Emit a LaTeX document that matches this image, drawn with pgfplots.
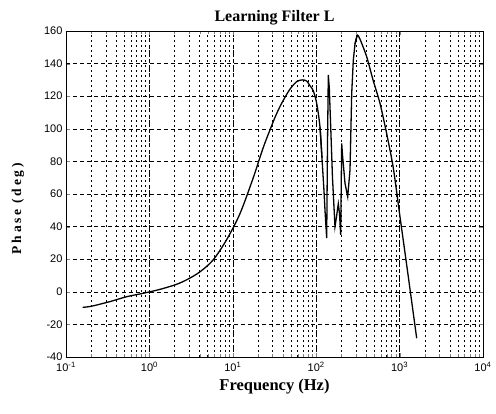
\documentclass[border=0pt]{standalone}
\usepackage{fontspec}
\setmainfont{Liberation Serif}
\newfontfamily\arial{Liberation Sans}
\usepackage{pgfplots}
\pgfplotsset{compat=1.18}
\begin{document}
\begin{tikzpicture}
\path[use as bounding box] (0,0) rectangle (496pt,413pt);
\begin{axis}[
  at={(66pt,56pt)}, anchor=south west,
  scale only axis, width=417pt, height=326pt,
  xmode=log, xmin=0.1, xmax=10000, ymin=-40, ymax=160,
  ytick={-40,-20,0,20,40,60,80,100,120,140,160},
  xtick={0.1,1,10,100,1000,10000},
  xticklabels={10\textsuperscript{-1},10\textsuperscript{0},10\textsuperscript{1},10\textsuperscript{2},10\textsuperscript{3},10\textsuperscript{4}},
  /pgf/number format/assume math mode=true,
  tick label style={font=\arial\fontsize{11}{12}\selectfont},
  xticklabel style={yshift=-1.5pt},
  grid=both,
  major grid style={black, line width=0.4pt, dash pattern=on 4pt off 3pt},
  minor grid style={black, line width=0.4pt, dash pattern=on 2pt off 3pt},
  minor y tick num=0,
  tick align=inside, tick pos=both,
  major tick length=4pt, minor tick length=2.5pt,
  axis line style={black, line width=0.6pt},
  title={Learning Filter L},
  title style={font=\bfseries\fontsize{16}{18}\selectfont, yshift=-4pt},
  xlabel={Frequency (Hz)},
  xlabel style={font=\bfseries\fontsize{16.5}{18}\selectfont, yshift=-1pt},
  ylabel={Phase (deg)},
  ylabel style={font=\bfseries\fontsize{13.5}{15}\selectfont\addfontfeature{LetterSpace=20}, at={(axis description cs:-0.115,0.455)}, anchor=center},
]
\addplot[black, line width=1.3pt, smooth, tension=0.5] coordinates {
(0.158,-9.5) (0.2,-8.9) (0.337,-6.0) (0.535,-3.0) (0.845,-0.9) (1.34,1.5) (2.12,4.6) (2.93,7.9) (4.05,12.3) (5.8,19.5) (8.4,31.8) (12.2,48) (17.6,70) (23,88) (27.9,99.3) (33,108.5) (38.5,115.6) (48,124) (58.3,128.9) (68,130) (76.9,129.3) (84,126.5) (92,123.5) (101.4,115.6) (111.1,101) (117.3,82)
};
\addplot[black, line width=1.3pt] coordinates {
(111.1,101) (117.3,82) (124,62) (127.5,50) (133.6,33) (136.6,90) (139.7,133) (143.6,125) (149.3,101) (156.8,70) (168,40) (175.1,46) (184.1,54) (190.3,48) (196.7,35) (202.2,91) (206.7,84) (221.5,66.6) (238.6,58.3) (254.3,74.7) (266.6,121.8) (278.5,142) (291.9,152) (311.1,157.5)
};
\addplot[black, line width=1.3pt, smooth, tension=0.4] coordinates {
(291.9,152) (311.1,157.5) (335.1,155) (403.2,144.2) (480,130) (582,115.6) (700,97) (840.5,76) (1011,46) (1216,16.5) (1603,-28.5)
};
\end{axis}
\end{tikzpicture}
\end{document}
